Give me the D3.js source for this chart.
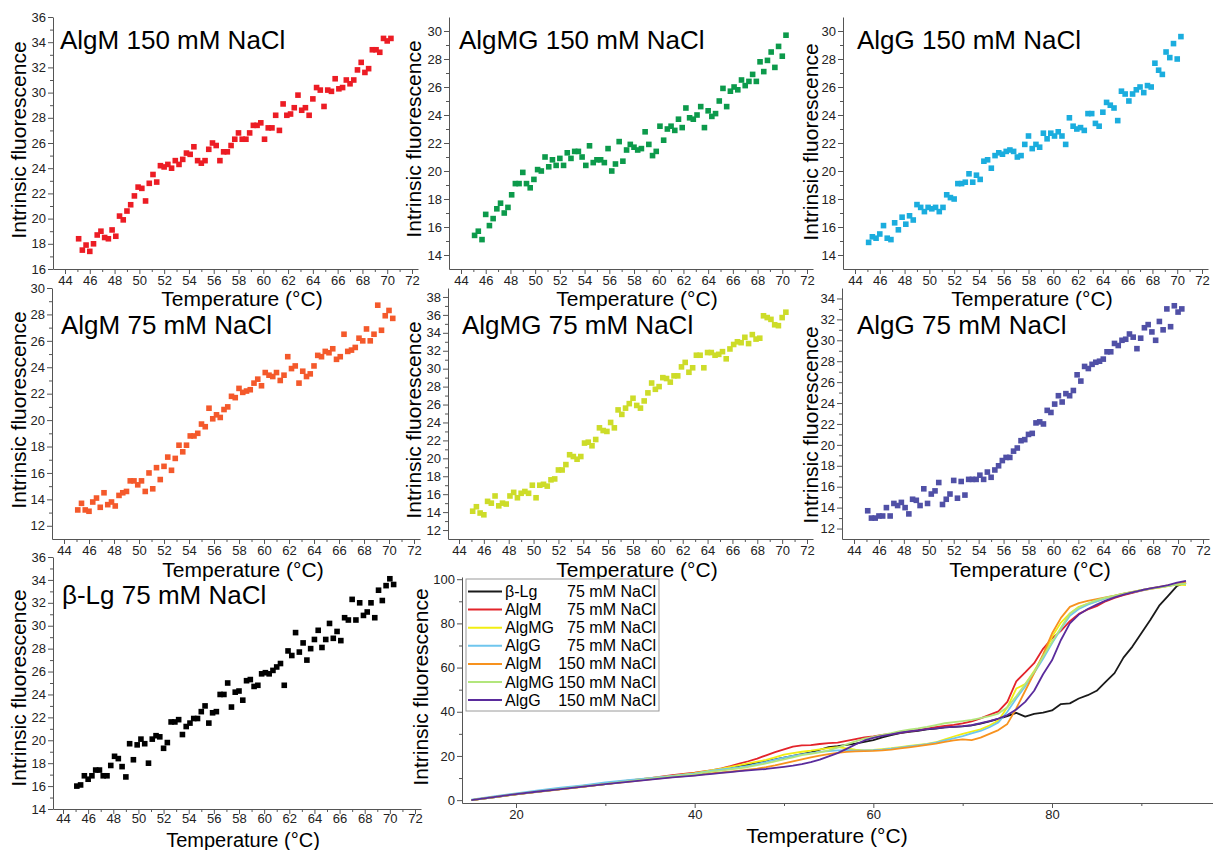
<!DOCTYPE html>
<html><head><meta charset="utf-8">
<script src="https://cdn.jsdelivr.net/npm/d3@7"></script>
<style>
body{margin:0;background:#fff;}
svg{display:block;font-family:"Liberation Sans",Arial,sans-serif;}
</style></head><body>
<svg id="c" width="1213" height="850"></svg>
<script>
// ---------- DATA ----------
const temps = [45.1,45.4,45.7,46.0,46.3,46.6,46.9,47.2,47.5,47.8,48.1,48.4,48.7,49.0,49.3,49.6,49.9,50.2,50.5,50.8,51.1,51.4,51.7,52.0,52.3,52.6,52.9,53.2,53.5,53.8,54.1,54.4,54.7,55.0,55.3,55.6,55.9,56.2,56.5,56.8,57.1,57.4,57.7,58.0,58.3,58.6,58.9,59.2,59.5,59.8,60.1,60.4,60.7,61.0,61.3,61.6,61.9,62.2,62.5,62.8,63.1,63.4,63.7,64.0,64.3,64.6,64.9,65.2,65.5,65.8,66.1,66.4,66.7,67.0,67.3,67.6,67.9,68.2,68.5,68.8,69.1,69.4,69.7,70.0,70.3];

const algM150 = [18.4,17.5,17.9,17.4,18.0,18.7,19.0,18.5,18.4,19.1,
18.6,20.2,19.9,20.6,21.1,21.8,22.5,22.4,21.4,22.8,
23.5,22.9,24.2,24.1,24.3,24.0,24.6,24.3,24.7,25.2,
25.1,25.7,24.6,24.4,24.6,25.5,26.0,25.8,24.6,25.3,
25.3,25.8,26.3,26.8,26.3,26.3,26.8,27.4,27.4,27.6,
26.3,27.2,27.2,28.2,27.0,29.1,28.2,28.3,28.8,29.8,
28.6,28.8,28.2,29.5,30.4,30.2,28.9,30.2,30.1,31.1,
30.3,30.4,31.0,30.7,31.0,31.8,32.4,31.6,31.9,33.4,
33.4,33.2,34.3,34.1,34.3];

const algMG150 = [15.4,15.7,15.1,16.9,16.1,16.6,17.3,17.7,17.0,17.4,
18.3,19.1,19.1,19.9,19.1,18.8,19.4,20.1,20.0,21.0,
20.3,20.8,20.4,20.9,20.4,21.3,20.9,21.4,21.4,21.0,
20.4,21.8,20.6,20.8,20.8,20.6,21.6,20.0,20.5,22.1,
20.7,21.5,21.9,21.7,21.5,21.6,22.8,21.9,21.1,21.4,
23.2,22.2,23.0,23.2,22.9,23.7,23.1,24.5,23.8,23.7,
24.0,24.6,23.1,24.3,23.9,24.1,25.0,25.9,24.6,25.7,
26.0,25.8,26.5,26.1,26.4,26.9,26.4,27.8,27.1,27.9,
28.5,27.4,28.9,28.2,29.7];

const algG150 = [14.9,15.3,15.2,15.5,16.1,15.2,15.1,16.3,15.8,16.7,
16.2,16.8,16.5,17.6,17.4,17.1,17.4,17.3,17.4,17.1,
17.4,18.3,18.1,18.0,19.1,19.1,19.2,19.8,19.2,19.7,
19.4,20.7,20.8,20.2,21.1,21.3,21.2,21.4,21.5,21.4,
21.0,21.1,21.9,22.5,21.6,21.9,21.7,22.7,22.3,22.7,
22.5,22.8,22.5,21.9,23.8,23.2,23.0,23.1,22.9,24.1,
24.1,23.4,23.2,24.2,24.9,24.7,24.5,23.6,25.7,25.5,
25.0,25.5,25.8,26.0,25.6,26.1,26.0,27.7,27.2,26.9,
28.5,28.1,29.1,28.0,29.6];

const algM75 = [13.2,13.7,13.2,13.1,13.8,14.1,13.4,14.5,13.6,13.8,
13.5,14.3,14.5,14.6,15.4,15.4,15.1,15.4,14.6,16.0,
14.8,16.4,15.5,16.5,17.2,16.2,17.1,18.1,17.6,18.1,
18.8,18.8,19.0,19.7,19.5,20.9,20.1,20.4,20.2,20.8,
21.0,21.8,21.7,22.4,22.1,22.2,22.3,22.8,23.1,22.6,
23.6,23.4,23.3,23.6,23.0,23.4,24.8,23.9,24.1,22.8,
23.7,23.3,23.5,24.1,24.9,24.8,25.2,25.1,25.4,24.6,
24.8,26.5,25.2,25.3,25.5,26.2,26.0,26.9,26.0,26.5,
28.7,26.8,27.9,28.3,27.7];

const algMG75 = [14.1,14.6,13.9,13.7,15.2,15.0,15.8,14.7,15.0,14.9,
15.8,16.2,15.6,16.1,16.3,16.1,17.0,15.6,17.0,17.1,
16.9,17.6,17.7,18.7,18.7,19.3,20.4,20.2,19.9,20.2,
21.7,21.8,21.4,22.1,23.4,23.1,23.0,24.0,23.4,25.4,
24.9,25.6,26.1,26.7,25.9,25.6,26.4,27.3,28.4,27.7,
28.0,29.0,28.9,28.5,29.2,29.2,30.2,30.7,29.6,30.1,
31.5,31.5,30.1,31.8,31.8,31.5,31.6,31.9,31.1,32.2,
32.7,33.0,32.9,33.5,32.8,33.8,33.3,33.4,35.9,35.7,
35.5,34.9,34.8,35.7,36.3];

const algG75 = [13.7,13.0,13.0,13.2,13.2,14.0,13.2,14.4,14.2,14.5,
14.0,13.4,14.8,14.7,14.2,15.8,14.4,15.3,15.6,16.4,
14.3,14.8,15.3,16.6,14.9,16.5,15.2,16.7,16.7,16.7,
17.1,16.7,17.4,16.9,17.6,18.0,18.5,18.8,18.8,19.4,
19.7,20.4,20.5,21.0,21.1,22.1,22.2,22.0,23.3,23.1,
23.9,24.7,24.1,24.9,24.7,25.2,26.7,26.1,27.5,27.3,
27.7,27.9,28.0,28.2,28.9,28.9,29.7,29.5,30.0,30.1,
30.6,30.3,29.2,30.2,31.2,31.5,30.8,30.0,31.8,31.0,
33.0,31.3,33.3,32.7,33.0];

const bLg75 = [16.0,16.1,16.9,16.6,16.9,17.4,17.4,16.9,16.9,17.8,
18.6,18.4,17.7,16.8,19.7,18.3,19.6,20.1,19.7,18.0,
20.1,20.4,20.3,19.3,19.8,21.6,21.6,21.8,20.5,21.2,
21.5,21.9,21.9,22.5,23.0,21.5,22.4,22.5,24.0,24.0,
25.0,22.9,24.2,24.3,23.5,25.2,25.3,24.7,24.8,25.8,
25.9,25.8,26.1,26.4,26.7,24.8,27.8,27.4,29.4,27.7,
28.5,27.0,28.0,28.8,29.6,28.1,28.8,30.2,28.9,29.5,
28.7,30.7,30.5,32.3,30.5,32.0,30.9,31.2,32.0,30.7,
33.1,32.2,33.5,34.1,33.6];

// combined melting curves
const lineTemps = [15,17.5,20,22.5,25,27.5,30,32.5,35,37.5,
40,41,42,43,44,45,46,47,48,49,50,51,52,53,54,55,56,57,58,59,
60,61,62,63,64,65,66,67,68,69,70,71,72,73,74,75,76,77,78,79,
80,81,82,83,84,85,86,87,88,89,90,91,92,93,94,95];

const lineBLg75 = [0,1.3,2.6,3.9,5.0,6.1,7.3,8.5,9.6,10.8,
11.9,12.5,13.2,13.9,14.7,15.3,16.1,16.8,17.5,18.4,
19.2,20.0,20.8,21.6,22.8,24.0,24.4,25.0,25.6,26.4,
27.2,28.4,29.4,30.3,30.9,31.4,32.0,32.4,32.9,33.2,
33.4,33.8,34.6,35.6,36.8,38.0,39.5,37.8,39.0,39.6,
40.6,43.5,43.8,46.0,47.5,49.5,53.5,57.5,64.5,69.5,
75.5,81.5,88.0,92.5,97.0,98.5];
const lineAlgM75 = [0,1.5,2.8,4.0,5.2,6.4,7.6,8.8,10.0,11.3,
12.4,13.0,13.6,14.4,15.4,16.5,17.6,18.8,20.3,21.7,
23.0,24.2,24.8,24.9,25.4,25.8,26.0,26.8,27.6,28.4,
28.9,29.5,30.0,30.5,31.1,31.7,32.4,33.0,33.6,34.1,
34.7,35.6,37.0,38.6,40.2,44.5,53.8,57.8,62.0,68.5,
73.2,76.6,81.0,84.3,86.3,87.8,90.0,91.5,92.8,93.8,
94.8,95.6,96.3,97.0,97.8,98.3];
const lineAlgMG75 = [0,1.4,2.7,4.1,5.3,6.4,7.6,8.8,9.9,11.0,
12.2,12.9,13.6,14.3,15.0,15.8,16.6,17.4,18.2,19.4,
20.6,21.3,21.9,22.4,23.0,23.5,24.0,23.4,22.8,22.5,
22.7,23.1,23.5,24.0,24.5,25.0,25.5,26.2,27.5,28.8,
30.0,31.0,32.0,33.8,36.0,42.0,50.5,52.5,58.5,65.0,
73.9,80.4,84.5,87.5,88.8,90.0,91.4,92.5,93.4,94.2,
95.0,95.6,96.2,96.9,97.6,97.3];
const lineAlgG75 = [0.2,1.7,3.0,4.4,5.6,6.7,8.0,9.0,10.0,11.0,
12.0,12.7,13.4,13.9,14.4,14.9,15.5,16.4,17.3,18.3,
19.2,20.0,20.7,21.3,21.8,22.2,22.5,22.6,22.4,22.5,
22.6,22.9,23.3,23.8,24.3,24.8,25.3,26.0,27.0,28.0,
29.0,30.2,31.3,33.0,35.2,40.0,46.0,51.5,57.5,64.0,
71.0,77.5,83.5,86.5,88.5,90.0,91.3,92.4,93.4,94.2,
95.0,95.7,96.4,97.0,97.7,98.0];
const lineAlgM150 = [0,1.3,2.6,3.8,4.9,6.0,7.2,8.3,9.4,10.4,
11.2,11.7,12.2,12.5,12.9,13.3,13.8,14.3,14.9,15.7,
16.6,17.5,18.4,19.3,20.1,20.8,21.4,21.8,22.1,22.2,
22.3,22.5,22.9,23.4,23.9,24.4,25.0,25.6,26.4,27.0,
27.5,27.2,28.3,30.0,31.7,34.5,41.5,49.5,57.5,66.0,
75.4,82.5,87.5,89.2,90.2,91.0,91.8,92.6,93.5,94.3,
95.1,95.8,96.5,97.2,97.9,98.4];
const lineAlgMG150 = [0,1.4,2.7,3.9,5.1,6.2,7.4,8.5,9.6,10.7,
11.7,12.4,13.0,13.4,13.9,14.4,15.0,15.8,16.6,17.5,
18.4,19.4,20.4,21.0,21.6,22.5,23.8,25.2,26.6,27.8,
28.6,29.5,30.3,31.2,31.9,32.5,33.2,34.0,34.8,35.3,
35.8,36.3,37.1,38.0,39.2,42.0,47.0,52.5,58.0,65.0,
71.6,78.0,84.5,87.2,89.0,90.5,91.7,92.6,93.5,94.3,
95.0,95.7,96.3,97.0,97.7,98.0];
const lineAlgG150 = [0,1.4,2.7,3.9,5.0,6.1,7.2,8.3,9.3,10.3,
11.1,11.5,11.9,12.3,12.7,13.1,13.5,13.8,14.1,14.6,
15.1,15.6,16.3,17.2,18.3,19.8,21.3,23.2,25.2,27.0,
28.2,29.1,29.8,30.5,31.1,31.6,32.1,32.5,32.9,33.2,
33.5,33.9,34.8,35.8,36.9,38.5,41.0,44.5,49.5,57.0,
63.3,72.5,80.0,84.0,86.5,88.5,90.3,91.8,93.0,94.0,
95.0,95.8,96.5,97.3,98.5,99.2];

const legendNames = ["β-Lg","AlgM","AlgMG","AlgG","AlgM","AlgMG","AlgG"];
const legendSalts = ["75 mM NaCl","75 mM NaCl","75 mM NaCl","75 mM NaCl","150 mM NaCl","150 mM NaCl","150 mM NaCl"];
const lineSeries = [lineBLg75,lineAlgM75,lineAlgMG75,lineAlgG75,lineAlgM150,lineAlgMG150,lineAlgG150];

const panelTitles = ["AlgM 150 mM NaCl","AlgMG 150 mM NaCl","AlgG 150 mM NaCl","AlgM 75 mM NaCl","AlgMG 75 mM NaCl","AlgG 75 mM NaCl","β-Lg 75 mM NaCl"];
const panelSeries = [algM150,algMG150,algG150,algM75,algMG75,algG75,bLg75];

// ---------- LAYOUT / STYLE ----------
const scatterColors = ["#ec1c24","#0c9a4b","#1badde","#f4592b","#cddc29","#5050a6","#000000"];
const lineColors = ["#1a1a1a","#e3242b","#f2ee12","#6fc6ee","#f7921e","#b2e67c","#5a2b9c"];
const layout = [
  {left:53,  top:17,  bottom:269, x44:65,  x72:412,  yd:[16,36], tx:60,  ty:49,  ytx:18,  yty:140, xtx:242,  xty:298, pad:2},
  {left:449, top:17,  bottom:269, x44:461, x72:807,  yd:[13,31], tx:459, ty:49,  ytx:413, yty:139, xtx:637,  xty:298, pad:2},
  {left:843, top:17,  bottom:269, x44:855, x72:1202, yd:[13,31], tx:857, ty:49,  ytx:810, yty:142, xtx:1032, xty:298, pad:2},
  {left:52,  top:288, bottom:539, x44:64,  x72:414,  yd:[11,30], tx:61,  ty:334, ytx:18,  yty:410, xtx:243,  xty:569, pad:2},
  {left:448, top:288, bottom:539, x44:459, x72:807,  yd:[11,39], tx:462, ty:334, ytx:413, yty:420, xtx:637,  xty:569, pad:2},
  {left:842, top:288, bottom:539, x44:854, x72:1203, yd:[11,35], tx:857, ty:334, ytx:810, yty:425, xtx:1030, xty:569, pad:2},
  {left:53,  top:557, bottom:809, x44:63,  x72:415,  yd:[14,36], tx:62,  ty:604, ytx:18,  yty:688, xtx:243,  xty:840, pad:0}
];
const axisColor = "#555";
const labelColor = "#222";
const FONT = '"Liberation Sans",Arial,sans-serif';

const svg = d3.select('#c');
svg.append('rect').attr('width',1213).attr('height',850).attr('fill','#fff');

function styleAxis(g, fs) {
  g.attr('font-family', FONT).attr('font-size', fs);
  g.selectAll('.domain').attr('stroke', axisColor).attr('stroke-width', 1);
  g.selectAll('.tick line').attr('stroke', axisColor).attr('stroke-width', 1);
  g.selectAll('.tick text').attr('fill', labelColor);
}

function drawAxes(x, y, bottom, left, xMaj, xMin, yMaj, yMin, pad) {
  const gxm = svg.append('g').attr('transform', `translate(0,${bottom})`)
    .call(d3.axisBottom(x).tickValues(xMin).tickSize(3).tickFormat(''));
  gxm.select('.domain').remove(); styleAxis(gxm, 13);
  const gym = svg.append('g').attr('transform', `translate(${left},0)`)
    .call(d3.axisLeft(y).tickValues(yMin).tickSize(3).tickFormat(''));
  gym.select('.domain').remove(); styleAxis(gym, 13);
  const gx = svg.append('g').attr('transform', `translate(0,${bottom})`)
    .call(d3.axisBottom(x).tickValues(xMaj).tickSize(5).tickSizeOuter(0).tickPadding(pad));
  styleAxis(gx, 13);
  const gy = svg.append('g').attr('transform', `translate(${left},0)`)
    .call(d3.axisLeft(y).tickValues(yMaj).tickSize(5).tickSizeOuter(0).tickPadding(2));
  styleAxis(gy, 13);
}

function yTitle(xp, yp) {
  svg.append('text').attr('transform', `translate(${xp},${yp}) rotate(-90)`)
    .attr('text-anchor','middle').attr('dominant-baseline','central')
    .attr('font-family', FONT).attr('font-size', 21).attr('fill','#000')
    .text('Intrinsic fluorescence');
}
function xTitle(xp, yp, fs) {
  svg.append('text').attr('x', xp).attr('y', yp)
    .attr('text-anchor','middle').attr('dominant-baseline','central')
    .attr('font-family', FONT).attr('font-size', fs || 21).attr('fill','#000')
    .text('Temperature (°C)');
}

// ---------- SCATTER PANELS ----------
layout.forEach((L, i) => {
  const base = d3.scaleLinear().domain([44,72]).range([L.x44, L.x72]);
  const right = L.x72 + 6;
  const x = d3.scaleLinear().domain([base.invert(L.left), base.invert(right)]).range([L.left, right]);
  const y = d3.scaleLinear().domain(L.yd).range([L.bottom, L.top]);
  const yMaj = d3.range(Math.ceil(L.yd[0]/2)*2, L.yd[1]+0.01, 2);
  const yMin = d3.range(Math.ceil(L.yd[0]/2)*2+1, L.yd[1], 2);
  const xMaj = d3.range(44, 73, 2).filter(v => v >= x.domain()[0]);
  const xMin = d3.range(Math.ceil(x.domain()[0]), 73, 1).filter(v => v % 2 !== 0);
  drawAxes(x, y, L.bottom, L.left, xMaj, xMin, yMaj, yMin, L.pad);

  const vals = panelSeries[i];
  const pts = temps.map((t, k) => [t, vals[k]]).filter(d => d[1] != null);
  const s = 5.6;
  svg.append('g').selectAll('rect').data(pts).join('rect')
    .attr('x', d => x(d[0]) - s/2).attr('y', d => y(d[1]) - s/2)
    .attr('width', s).attr('height', s).attr('fill', scatterColors[i]);

  svg.append('text').attr('x', L.tx).attr('y', L.ty)
    .attr('font-family', FONT).attr('font-size', 26).attr('fill','#000')
    .text(panelTitles[i]);
  yTitle(L.ytx, L.yty);
  xTitle(L.xtx, L.xty, i === 6 ? 20 : 21);
});

// ---------- COMBINED PANEL ----------
(function(){
  const left = 462, bottom = 803, top = 577;
  const base = d3.scaleLinear().domain([20,80]).range([516,1052]);
  const x = d3.scaleLinear().domain([base.invert(left), base.invert(1213)]).range([left, 1213]);
  const y = d3.scaleLinear().domain([-1.3, 101]).range([bottom, top]);
  drawAxes(x, y, bottom, left, [20,40,60,80], [30,50,70,90], [0,20,40,60,80,100], [10,30,50,70,90], 2);

  const line = d3.line().x(d => x(d[0])).y(d => y(d[1]));
  lineSeries.forEach((ser, i) => {
    svg.append('path').datum(lineTemps.map((t,k) => [t, ser[k]]))
      .attr('d', line).attr('fill','none').attr('stroke', lineColors[i])
      .attr('stroke-width', 1.8).attr('stroke-linejoin','round');
  });

  // legend
  const lg = svg.append('g');
  lg.append('rect').attr('x', 466).attr('y', 579).attr('width', 193).attr('height', 132)
    .attr('fill','#fff').attr('stroke','#9a9a9a').attr('stroke-width',1);
  legendNames.forEach((n, i) => {
    const cy = 591.5 + i*18.1;
    lg.append('line').attr('x1', 468).attr('x2', 502).attr('y1', cy).attr('y2', cy)
      .attr('stroke', lineColors[i]).attr('stroke-width', 2);
    lg.append('text').attr('x', 505).attr('y', cy).attr('dominant-baseline','central')
      .attr('font-family', FONT).attr('font-size', 16).attr('fill','#000').text(n);
    lg.append('text').attr('x', 656).attr('y', cy).attr('dominant-baseline','central')
      .attr('text-anchor','end')
      .attr('font-family', FONT).attr('font-size', 16).attr('fill','#000').text(legendSalts[i]);
  });
  yTitle(420, 687);
  xTitle(827, 835);
})();
</script>
</body></html>
